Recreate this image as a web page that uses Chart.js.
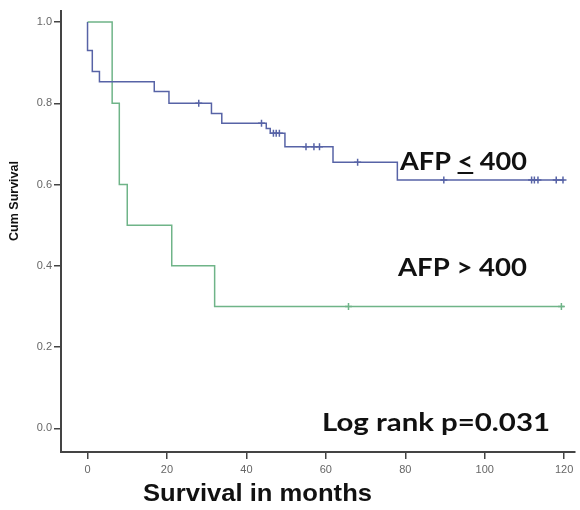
<!DOCTYPE html>
<html>
<head>
<meta charset="utf-8">
<script src="https://cdn.jsdelivr.net/npm/chart.js@4.4.0/dist/chart.umd.min.js"></script>
<style>
  html, body { margin: 0; padding: 0; background: #fff; }
</style>
</head>
<body>
<canvas id="kmChart" width="580" height="510"></canvas>
<script>
// Curva AFP <= 400 (tiempos en meses y supervivencia acumulada)
var bajoTiempos = [0, 0, 1.2, 3, 16.8, 20.5, 31.2, 33.8, 45, 46, 49.7, 61.8, 78, 120];
var bajoSuperv  = [1.0, 0.93, 0.878, 0.853, 0.829, 0.80, 0.775, 0.751, 0.738, 0.726, 0.693, 0.655, 0.611, 0.611];
// Censurados AFP <= 400
var bajoCensT = [28, 43.8, 46.8, 47.5, 48.3, 55, 57, 58.4, 68, 89.7, 111.8, 112.5, 113.4, 118, 119.7];
var bajoCensS = [0.80, 0.751, 0.726, 0.726, 0.726, 0.693, 0.693, 0.693, 0.655, 0.611, 0.611, 0.611, 0.611, 0.611, 0.611];

// Curva AFP > 400
var altoTiempos = [0, 6.2, 8, 10, 21.2, 32, 120];
var altoSuperv  = [1.0, 0.8, 0.6, 0.5, 0.4, 0.3, 0.3];
var altoCensT = [65.7, 119.3];
var altoCensS = [0.3, 0.3];

// Etiquetas de los ejes
var ticksX = [0, 20, 40, 60, 80, 100, 120];
var ticksY = [0.0, 0.2, 0.4, 0.6, 0.8, 1.0];

function puntos(xs, ys) {
    return xs.map(function(x, i) { return { x: x, y: ys[i] }; });
}

var azul = '#5763a6';
var verde = '#6fb488';

// texto estirado a lo ancho hasta ocupar el ancho pedido
function textoAncho(ctx, txt, x, y, ancho) {
    var w = ctx.measureText(txt).width;
    var f = ancho / w;
    ctx.save();
    ctx.translate(x, y);
    ctx.scale(f, 1);
    ctx.fillText(txt, 0, 0);
    ctx.restore();
    return f;
}

// Textos sobre la grafica
var textosPlugin = {
    id: 'textos',
    afterDraw: function(chart) {
        var ctx = chart.ctx;
        ctx.save();
        ctx.fillStyle = '#111';
        ctx.textBaseline = 'middle';

        // titulo eje Y
        ctx.save();
        ctx.translate(15, 201);
        ctx.rotate(-Math.PI / 2);
        ctx.textAlign = 'center';
        ctx.font = 'bold 12.5px "Liberation Sans", Arial, sans-serif';
        ctx.fillText('Cum Survival', 0, 0);
        ctx.restore();

        // titulo eje X
        ctx.textAlign = 'left';
        ctx.font = 'bold 24px "Liberation Sans", Arial, sans-serif';
        textoAncho(ctx, 'Survival in months', 143, 494, 229);

        // etiquetas de grupos
        ctx.font = 'bold 24px Lato, sans-serif';
        var x0 = 400, y0 = 162;
        var f = textoAncho(ctx, 'AFP < 400', x0, y0, 127);
        var w1 = ctx.measureText('AFP ').width * f;
        var w2 = ctx.measureText('<').width * f;
        ctx.fillRect(x0 + w1, y0 + 10, w2, 2);

        textoAncho(ctx, 'AFP > 400', 398, 268, 129);

        ctx.font = 'bold 24px Lato, sans-serif';
        textoAncho(ctx, 'Log rank p=0.031', 322, 423, 228);
        ctx.restore();
    }
};

var ctx = document.getElementById('kmChart').getContext('2d');
var kmChart = new Chart(ctx, {
    type: 'line',
    data: {
        datasets: [{
            label: 'AFP <= 400',
            data: puntos(bajoTiempos, bajoSuperv),
            stepped: true,
            borderColor: azul,
            borderWidth: 1.5,
            pointRadius: 0,
            fill: false
        }, {
            label: 'AFP > 400',
            data: puntos(altoTiempos, altoSuperv),
            stepped: true,
            borderColor: verde,
            borderWidth: 1.5,
            pointRadius: 0,
            fill: false
        }, {
            label: 'Censurado bajo',
            data: puntos(bajoCensT, bajoCensS),
            showLine: false,
            pointStyle: 'cross',
            pointRadius: 3.5,
            pointBorderWidth: 1.5,
            borderColor: azul
        }, {
            label: 'Censurado alto',
            data: puntos(altoCensT, altoCensS),
            showLine: false,
            pointStyle: 'cross',
            pointRadius: 3.5,
            pointBorderWidth: 1.5,
            borderColor: verde
        }]
    },
    options: {
        responsive: false,
        animation: false,
        layout: { padding: { top: 11, right: 2, left: 0, bottom: 0 } },
        plugins: {
            legend: { display: false },
            tooltip: { enabled: false }
        },
        scales: {
            x: {
                type: 'linear',
                min: -6.68,
                max: 122.6,
                afterBuildTicks: function(scale) {
                    scale.ticks = ticksX.map(function(v) { return { value: v }; });
                },
                afterFit: function(scale) { scale.height = 58; },
                border: { color: '#444', width: 2 },
                grid: { drawOnChartArea: false, drawTicks: true, tickLength: 7, color: '#444', lineWidth: 1.5 },
                ticks: {
                    color: '#666',
                    padding: 4,
                    maxRotation: 0,
                    font: { family: '"Liberation Sans", Arial, sans-serif', size: 11 },
                    callback: function(v) { return String(v); }
                }
            },
            y: {
                min: -0.058,
                max: 1.027,
                afterBuildTicks: function(scale) {
                    scale.ticks = ticksY.map(function(v) { return { value: v }; });
                },
                afterFit: function(scale) { scale.width = 61; },
                border: { color: '#444', width: 2 },
                grid: { drawOnChartArea: false, drawTicks: true, tickLength: 7, color: '#444', lineWidth: 1.5 },
                ticks: {
                    color: '#666',
                    padding: 2,
                    font: { family: '"Liberation Sans", Arial, sans-serif', size: 11 },
                    callback: function(v) { return v.toFixed(1); }
                }
            }
        }
    },
    plugins: [textosPlugin]
});
</script>
</body>
</html>
